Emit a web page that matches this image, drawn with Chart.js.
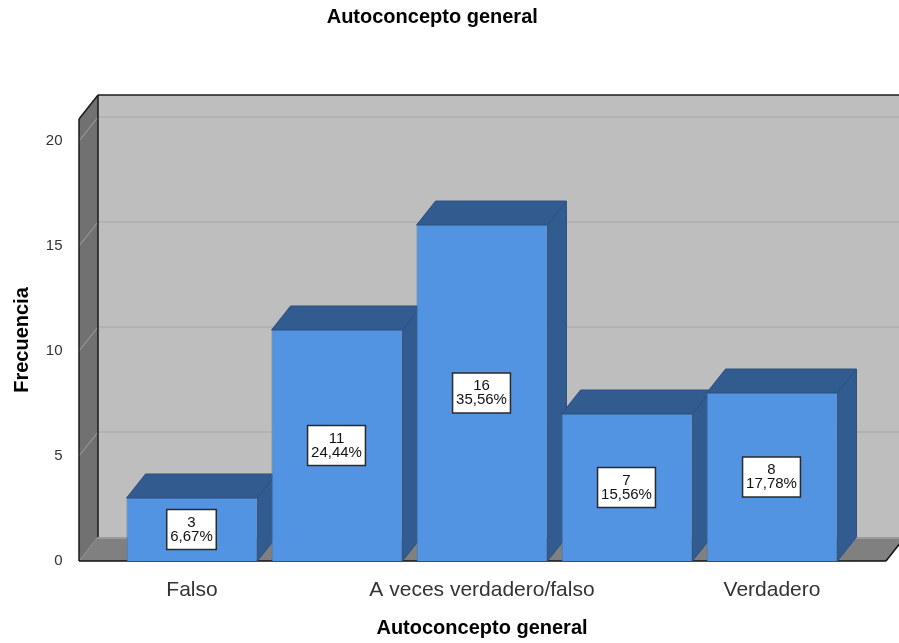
<!DOCTYPE html>
<html>
<head>
<meta charset="utf-8">
<title>Autoconcepto general</title>
<script src="https://cdn.jsdelivr.net/npm/chart.js@4/dist/chart.umd.min.js"></script>
<style>
  html, body { margin: 0; padding: 0; background: #fff; }
  canvas { display: block; }
</style>
</head>
<body>
<canvas id="myChart" width="899" height="643"></canvas>
<script>
// only every other category label is shown in the picture
var categories = ['Falso', '', 'A veces verdadero/falso', '', 'Verdadero'];
var counts = [3, 11, 16, 7, 8];
var percents = ['6,67%', '24,44%', '35,56%', '15,56%', '17,78%'];
var yTicks = [0, 5, 10, 15, 20];

var fontName = '"Liberation Sans", Arial, sans-serif';
var depthX = 19, depthY = 24;
var wallLeft = 79, wallRight = 886;

function poly(ctx, pts, fill, stroke, width) {
  ctx.beginPath();
  ctx.moveTo(pts[0][0], pts[0][1]);
  for (var i = 1; i < pts.length; i++) ctx.lineTo(pts[i][0], pts[i][1]);
  ctx.closePath();
  ctx.fillStyle = fill;
  ctx.fill();
  if (stroke) {
    ctx.strokeStyle = stroke;
    ctx.lineWidth = width || 1;
    ctx.stroke();
  }
}

function line(ctx, x1, y1, x2, y2, color, width) {
  ctx.beginPath();
  ctx.moveTo(x1, y1);
  ctx.lineTo(x2, y2);
  ctx.strokeStyle = color;
  ctx.lineWidth = width;
  ctx.stroke();
}

var box3d = {
  id: 'box3d',
  afterLayout: function(chart) {
    // the title sits a little right of the page centre
    chart.titleBlock.left = 20;
  },
  beforeDatasetsDraw: function(chart) {
    var ctx = chart.ctx;
    var y = chart.scales.y;
    var top = y.top, base = y.bottom;
    ctx.save();

    // back wall, side wall, floor
    poly(ctx, [[wallLeft + depthX, top - depthY], [chart.width, top - depthY], [chart.width, base - depthY], [wallLeft + depthX, base - depthY]], '#bebebe');
    poly(ctx, [[wallLeft, top], [wallLeft + depthX, top - depthY], [wallLeft + depthX, base - depthY], [wallLeft, base]], '#717171');
    poly(ctx, [[wallLeft, base], [wallLeft + depthX, base - depthY], [wallRight + depthX, base - depthY], [wallRight, base]], '#808080');
    line(ctx, wallLeft + depthX, base - depthY + 1, chart.width, base - depthY + 1, '#9a9a9a', 2);

    // grid lines
    y.ticks.forEach(function(t) {
      var py = y.getPixelForValue(t.value);
      if (t.value > 0) line(ctx, wallLeft + depthX, py - depthY, chart.width, py - depthY, '#aeaeae', 1.5);
      line(ctx, wallLeft, py, wallLeft + depthX, py - depthY, t.value > 0 ? '#a2a2a2' : '#8e8e8e', 1);
    });

    // box outline
    line(ctx, wallLeft + depthX, top - depthY, chart.width, top - depthY, '#1a1a1a', 1.5);
    line(ctx, wallLeft + depthX, top - depthY, wallLeft + depthX, base - depthY, '#1a1a1a', 1.5);
    line(ctx, wallLeft, top, wallLeft + depthX, top - depthY, '#1a1a1a', 1.5);
    line(ctx, wallLeft, top, wallLeft, base, '#1a1a1a', 1.5);
    line(ctx, wallLeft, base, wallRight, base, '#111111', 1.5);
    line(ctx, wallRight, base, wallRight + depthX, base - depthY, '#111111', 1.5);

    // bar tops and sides, left to right so that later bars overlap
    chart.getDatasetMeta(0).data.forEach(function(bar) {
      var l = bar.x - bar.width / 2, r = bar.x + bar.width / 2;
      poly(ctx, [[l, bar.y], [l + depthX, bar.y - depthY], [r + depthX, bar.y - depthY], [r, bar.y]], '#325c8f', '#2b5081', 1);
      poly(ctx, [[r, bar.y], [r + depthX, bar.y - depthY], [r + depthX, bar.base - depthY], [r, bar.base]], '#325c8f', '#2b5081', 1);
    });
    ctx.restore();
  },
  afterDatasetsDraw: function(chart) {
    var ctx = chart.ctx;
    ctx.save();
    ctx.font = '15px ' + fontName;
    ctx.textAlign = 'center';
    ctx.textBaseline = 'middle';
    chart.getDatasetMeta(0).data.forEach(function(bar, i) {
      var cy = (bar.y + bar.base) / 2;
      var w = ctx.measureText(percents[i]).width + 7;
      var cx = bar.x - 0.5;
      ctx.fillStyle = '#ffffff';
      ctx.fillRect(cx - w / 2, cy - 20, w, 40);
      ctx.strokeStyle = '#2a2a2a';
      ctx.lineWidth = 1.5;
      ctx.strokeRect(cx - w / 2, cy - 20, w, 40);
      ctx.fillStyle = '#111111';
      ctx.fillText(String(counts[i]), cx, cy - 7);
      ctx.fillText(percents[i], cx, cy + 7);
    });
    ctx.restore();
  }
};

var ctx = document.getElementById('myChart');
var myChart = new Chart(ctx, {
  type: 'bar',
  data: {
    labels: categories,
    datasets: [{
      data: counts,
      backgroundColor: '#5294e2',
      borderColor: '#3f6fa8',
      borderWidth: 1,
      categoryPercentage: 1,
      barPercentage: 0.903
    }]
  },
  options: {
    responsive: false,
    animation: false,
    layout: { padding: { left: 0, right: 54.5, top: 0, bottom: 0 } },
    plugins: {
      legend: { display: false },
      tooltip: { enabled: false },
      title: {
        display: true,
        text: 'Autoconcepto general',
        color: '#000000',
        font: { family: fontName, size: 20, weight: 'bold' },
        padding: { top: 5, bottom: 90 }
      }
    },
    scales: {
      x: {
        offset: true,
        grid: { display: false },
        border: { display: false },
        ticks: {
          autoSkip: false,
          maxRotation: 0,
          padding: 9,
          color: '#333333',
          font: { family: fontName, size: 21 }
        },
        title: {
          display: true,
          text: 'Autoconcepto general',
          color: '#000000',
          font: { family: fontName, size: 20, weight: 'bold' },
          padding: { top: 0, bottom: 3 }
        },
        afterFit: function(scale) { scale.height = 82; }
      },
      y: {
        min: 0,
        max: 21.05,
        grid: { display: false },
        border: { display: false },
        afterBuildTicks: function(scale) {
          scale.ticks = yTicks.map(function(v) { return { value: v }; });
        },
        ticks: {
          padding: 49,
          color: '#333333',
          font: { family: fontName, size: 15 }
        },
        title: {
          display: true,
          text: 'Frecuencia',
          color: '#000000',
          font: { family: fontName, size: 20, weight: 'bold' },
          padding: { top: 10, bottom: 0 }
        },
        afterFit: function(scale) { scale.width = 119.5; }
      }
    }
  },
  plugins: [box3d]
});
</script>
</body>
</html>
